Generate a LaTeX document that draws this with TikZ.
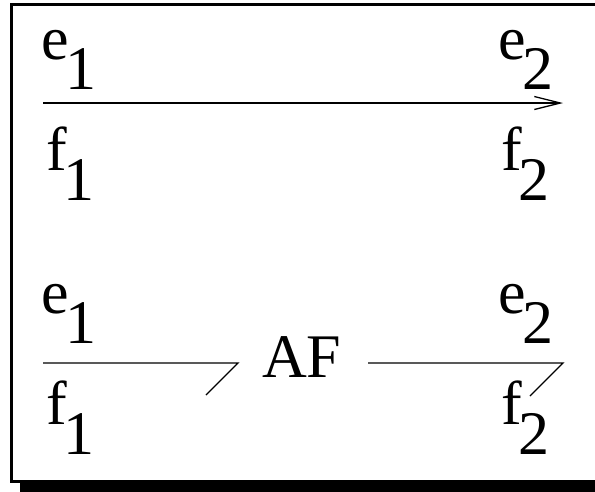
\documentclass[tikz,border=0pt]{standalone}
\usepackage{fontspec}
\setmainfont{Liberation Serif}
\usetikzlibrary{arrows.meta}
\tikzset{
  lbl/.style={inner sep=0pt, outer sep=0pt, anchor=base west, font=\fontsize{62}{62}\selectfont},
  conn/.style={line width=1.3pt, line cap=butt},
  frame/.style={line width=2.6pt},
}
\newcommand{\sublbl}[2]{#1\kern-4pt\raisebox{-30pt}{#2}}
\begin{document}
\begin{tikzpicture}[x=1pt,y=-1pt]
\useasboundingbox (0,0) rectangle (595,491);
% frame with shadow
\fill[black] (20,482.5) rectangle (620,500);
\draw[frame] (11.2,4.7) rectangle (610,481.7);
% top row
\node[lbl] (e1a) at (41.5,59) {\sublbl{e}{1}};
\node[lbl] (f1a) at (46.5,170) {\sublbl{f}{1}};
\node[lbl] (e2a) at (498.5,59) {\sublbl{e}{2}};
\node[lbl] (f2a) at (501.5,170) {\sublbl{f}{2}};
\coordinate (ta) at (43,103);
\coordinate (tb) at (563,103);
\draw[conn, -{Straight Barb[length=26pt,width=13pt,line width=1.3pt]}] (ta) -- (tb);
% bottom row
\node[lbl] (e1b) at (41.5,313) {\sublbl{e}{1}};
\node[lbl] (f1b) at (46.5,424) {\sublbl{f}{1}};
\node[lbl] (e2b) at (498.5,313) {\sublbl{e}{2}};
\node[lbl] (f2b) at (501.5,424) {\sublbl{f}{2}};
\node[lbl] (af) at (262,377) {AF};
\coordinate (ba) at (43,363);
\coordinate (bb) at (238,363);
\coordinate (bc) at (368,363);
\coordinate (bd) at (563,363);
\draw[conn] (ba) -- (bb) -- ++(-32,32);
\draw[conn] (bc) -- (bd) -- ++(-33,33);
\end{tikzpicture}
\end{document}
